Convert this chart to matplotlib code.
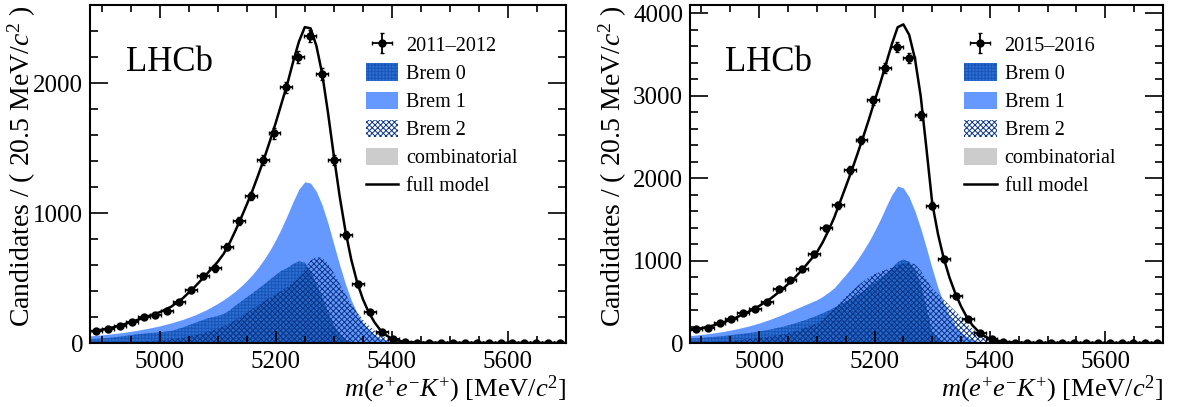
import numpy as np
import matplotlib.pyplot as plt
from matplotlib.ticker import MultipleLocator

plt.rcParams['font.family'] = ['Liberation Serif', 'DejaVu Serif']
plt.rcParams['mathtext.fontset'] = 'custom'
plt.rcParams['mathtext.rm'] = 'Liberation Serif'
plt.rcParams['mathtext.it'] = 'Liberation Serif:italic'
plt.rcParams['hatch.linewidth'] = 0.7

# binning of the data histograms
m_lo, bin_w, n_bins = 4880, 20.5, 40

# data, 2011-2012
counts_1112 = [92, 105, 133, 164, 197, 218, 246, 315, 408, 518,
               574, 741, 941, 1131, 1410, 1613, 1967, 2198, 2362, 2069,
               1408, 831, 451, 241, 87, 28, 5, 2, 1, 1,
               0, 0, 1, 0, 0, 0, 0, 0, 0, 0]
# data, 2015-2016
counts_1516 = [166, 186, 239, 292, 360, 409, 502, 652, 765, 899,
               1081, 1393, 1669, 2102, 2458, 2944, 3337, 3593, 3459, 2762,
               1665, 1017, 575, 288, 118, 45, 16, 5, 2, 1,
               1, 0, 0, 1, 0, 0, 0, 0, 0, 0]

# fit components
mass_grid = [4880, 4900, 4920, 4940, 4960, 4980, 5000, 5020, 5040, 5060, 5080, 5100,
             5110, 5120, 5130, 5140, 5150, 5160, 5170, 5180, 5190, 5200,
             5210, 5220, 5230, 5240, 5250, 5260, 5270, 5280, 5290, 5300,
             5310, 5320, 5330, 5340, 5350, 5360, 5370, 5380, 5390, 5400,
             5420, 5450, 5500, 5600, 5700]

brem0_1112 = [31, 34, 43, 54, 66, 76, 82, 93, 119, 153, 186, 208,
              222, 249, 285, 318, 351, 383, 417, 451, 488, 523,
              556, 576, 608, 628, 618, 553, 456, 353, 238, 138,
              70, 28, 10, 3, 1, 0, 0, 0, 0, 0,
              0, 0, 0, 0, 0]
brem1_1112 = [55, 63, 72, 83, 97, 113, 132, 155, 182, 215, 255, 305,
              333, 364, 398, 437, 480, 528, 583, 645, 715, 795,
              885, 985, 1090, 1185, 1240, 1230, 1165, 1060, 920, 760,
              600, 455, 330, 230, 155, 100, 62, 36, 20, 10,
              2, 0.3, 0, 0, 0]
brem2_1112 = [2, 3, 4, 7, 10, 15, 21, 30, 42, 60, 82, 110,
              128, 150, 175, 203, 232, 262, 293, 322, 350, 375,
              402, 432, 465, 505, 570, 635, 662, 655, 610, 540,
              458, 377, 300, 235, 180, 135, 96, 62, 38, 21,
              5, 0.7, 0, 0, 0]
comb_1112 = [2, 2, 2, 2, 2, 2, 2, 2, 2, 2, 2, 2,
             2, 2, 2, 2, 2, 2, 2, 2, 2, 2,
             2, 2, 2, 2, 2, 2, 2, 2, 2, 2,
             2, 2, 2, 2, 2, 2, 2, 2, 2, 2,
             2, 2, 1.5, 1, 1]

brem0_1516 = [55, 63, 73, 86, 101, 119, 140, 165, 195, 232, 278, 330,
              360, 392, 426, 462, 500, 540, 582, 628, 678, 735,
              785, 840, 905, 980, 1015, 985, 890, 720, 430, 130,
              50, 15, 4, 1, 0, 0, 0, 0, 0, 0,
              0, 0, 0, 0, 0]
brem1_1516 = [90, 104, 121, 143, 170, 203, 242, 290, 345, 405, 465, 525,
              565, 615, 670, 750, 830, 915, 1010, 1115, 1230, 1360,
              1500, 1655, 1800, 1905, 1880, 1770, 1600, 1390, 1150, 900,
              670, 480, 328, 212, 130, 75, 40, 20, 9, 4,
              1, 0, 0, 0, 0]
brem2_1516 = [5, 8, 13, 21, 33, 47, 62, 80, 105, 138, 185, 240,
              290, 350, 420, 490, 560, 625, 690, 745, 795, 835,
              865, 890, 915, 940, 965, 978, 955, 880, 770, 660,
              595, 525, 455, 385, 310, 234, 168, 117, 73, 43,
              13, 2, 0, 0, 0]
comb_1516 = [5, 5, 5, 5, 5, 5, 5, 5, 5, 5, 5, 5,
             5, 5, 5, 5, 5, 5, 5, 5, 5, 5,
             5, 5, 5, 5, 5, 5, 5, 5, 5, 5,
             5, 5, 5, 4, 4, 4, 4, 4, 4, 4,
             3, 3, 2, 1, 1]

col_b0 = '#2b6fd6'
col_b1 = '#6699ff'
col_b2 = '#0b3585'
col_comb = '#cccccc'


def draw_panel(ax, counts, b0, b1, b2, comb, period, ymax, ylab_x):
    mg = np.array(mass_grid)
    b0, b1, b2, comb = map(np.array, (b0, b1, b2, comb))
    full = b0 + b1 + b2 + comb

    h1 = ax.fill_between(mg, 0, b1, color=col_b1, lw=0)
    h0 = ax.fill_between(mg, 0, b0, facecolor=col_b0, edgecolor='#1a55b5',
                         hatch='+++++', lw=0)
    h2 = ax.fill_between(mg, 0, b2, facecolor='none', edgecolor=col_b2,
                         hatch='xxxxxx', lw=0)
    hc = ax.fill_between(mg, 0, comb, color=col_comb, lw=0)
    hf, = ax.plot(mg, full, color='black', lw=1.8)

    centers = m_lo + bin_w * (np.arange(n_bins) + 0.5)
    y = np.array(counts, dtype=float)
    hd = ax.errorbar(centers, y, xerr=bin_w / 2, yerr=np.sqrt(y), fmt='o',
                     color='black', ms=5, elinewidth=1.3, capsize=1.5,
                     zorder=5)

    ax.set_xlim(m_lo, m_lo + bin_w * n_bins)
    ax.set_ylim(0, ymax)
    ax.xaxis.set_major_locator(MultipleLocator(200))
    ax.xaxis.set_minor_locator(MultipleLocator(50))
    ax.yaxis.set_major_locator(MultipleLocator(1000))
    ax.yaxis.set_minor_locator(MultipleLocator(200))
    ax.tick_params(which='both', direction='in', top=True, right=True,
                   labelsize=18, width=1.2)
    ax.tick_params(axis='x', which='major', length=9, pad=6)
    ax.tick_params(axis='x', which='minor', length=5)
    ax.tick_params(axis='y', which='major', length=13, pad=5)
    ax.tick_params(axis='y', which='minor', length=6)
    for s in ax.spines.values():
        s.set_linewidth(1.5)

    ax.set_xlabel(r'$m(e^{+}e^{-}K^{+})$ [MeV/$c^{2}$]', fontsize=19, loc='right')
    ax.set_ylabel(r'Candidates / ( 20.5 MeV/$c^{2}$ )', fontsize=20, loc='top')
    ax.yaxis.set_label_coords(ylab_x, 1.0)
    ax.xaxis.set_label_coords(1.0, -0.09)

    ax.text(0.075, 0.83, 'LHCb', transform=ax.transAxes, fontsize=25,
            va='center', ha='left')

    ax.legend([hd, h0, h1, h2, hc, hf],
              [period, 'Brem 0', 'Brem 1', 'Brem 2', 'combinatorial', 'full model'],
              loc='upper left', bbox_to_anchor=(0.58, 0.91), frameon=False,
              fontsize=14.5, handlelength=1.6, handleheight=0.95,
              handletextpad=0.4, labelspacing=0.37, borderpad=0, borderaxespad=0)


fig = plt.figure(figsize=(11.77, 4.07), dpi=100)
ax1 = fig.add_axes([0.0765, 0.1572, 0.4044, 0.8305])
ax2 = fig.add_axes([0.5862, 0.1572, 0.4019, 0.8305])

draw_panel(ax1, counts_1112, brem0_1112, brem1_1112, brem2_1112, comb_1112,
           '2011\u20132012', 2600, -0.11)
draw_panel(ax2, counts_1516, brem0_1516, brem1_1516, brem2_1516, comb_1516,
           '2015\u20132016', 4100, -0.128)

fig.savefig('out.png', dpi=100)
